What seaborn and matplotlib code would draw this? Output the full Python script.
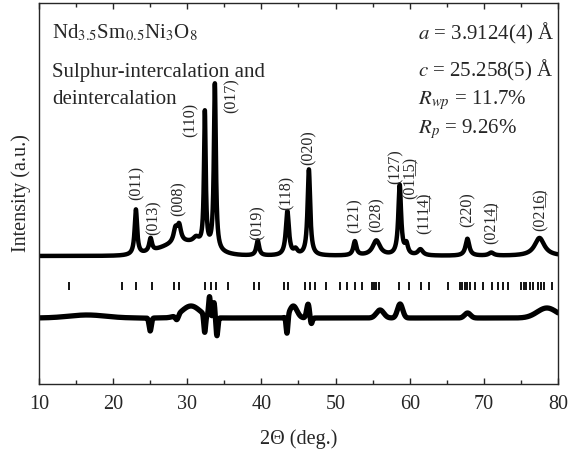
import numpy as np
import pandas as pd
import seaborn as sns
import matplotlib
matplotlib.use("Agg")
import matplotlib.pyplot as plt

peak_pos = [23.07, 25.05, 28.4, 28.9, 31.2, 32.37, 33.72, 39.5, 43.5, 44.6, 46.4,
            52.6, 55.5, 58.65, 59.55, 61.44, 67.78, 71.0, 77.5]
peak_height = [45, 13, 13, 16, 6, 134, 166, 15, 44, 5, 86,
               14, 15, 70, 10, 6, 17, 3, 18]
peak_fwhm = [0.4, 0.45, 0.6, 0.6, 1.0, 0.28, 0.32, 0.45, 0.5, 0.6, 0.42,
             0.5, 1.2, 0.45, 0.5, 0.8, 0.6, 0.8, 1.6]
background = 128
hump_pos, hump_height, hump_sigma = 29.5, 13, 3.0

# difference curve features
diff_pos = [16.5, 25.0, 28.6, 30.5, 32.35, 33.0, 33.6, 34.0, 43.45, 44.3, 46.3, 46.7,
            56.0, 58.7, 67.8, 78.5]
diff_amp = [3, -13, -5, 12, -18, 20, 15, -18, -18, 12, 14, -7,
            8, 14, 5, 10]
diff_sigma = [2.5, 0.15, 0.2, 1.2, 0.12, 0.12, 0.12, 0.12, 0.12, 0.5, 0.2, 0.15,
              0.5, 0.35, 0.4, 1.3]
diff_offset = 66

# Bragg reflection positions
bragg_pos = [14.04, 21.14, 23.07, 25.18, 28.24, 28.91, 32.37, 33.14, 33.85, 35.52,
             39.02, 39.61, 43.02, 43.65, 45.85, 46.52, 47.2, 48.77, 50.57, 51.56,
             52.59, 53.62, 54.93, 55.2, 55.5, 55.82, 58.56, 59.87, 61.57, 62.6,
             65.17, 66.74, 67.1, 67.41, 67.73, 68.09, 68.76, 69.88, 71.14, 71.9,
             72.57, 73.25, 75.05, 75.36, 75.72, 76.17, 76.62, 77.29, 77.75, 78.1, 79.14]
bragg_level = 98

# hkl labels ("|" marks where the underlined index starts)
hkl_text = ["011", "013", "008", "110", "017", "019", "118", "020", "121", "028",
            "127", "01|15", "11|14", "220", "02|14", "02|16"]
hkl_x = [23.2, 25.5, 28.9, 30.5, 36.0, 39.5, 43.4, 46.4, 52.6, 55.5,
         58.1, 60.1, 62.0, 67.8, 71.0, 77.7]
hkl_y = [201, 166, 185, 264, 288, 161, 191, 236, 168, 169,
         217, 206, 171, 174, 161, 174]

sns.set_style("ticks")
plt.rcParams["font.family"] = ["Liberation Serif", "DejaVu Serif"]
plt.rcParams["mathtext.fontset"] = "stix"


def hkl_label(s):
    if "|" in s:
        a, b = s.split("|")
        return "(" + a + "".join(c + "\u0332" for c in b) + ")"
    return "(" + s + ")"


tt = np.linspace(10, 80, 7001)
obs = background + hump_height * np.exp(-(tt - hump_pos) ** 2 / (2 * hump_sigma ** 2))
for p, h, w in zip(peak_pos, peak_height, peak_fwhm):
    obs = obs + h / (1 + ((tt - p) / (w / 2)) ** 2)
diff = np.full_like(tt, diff_offset, dtype=float)
for p, a, s in zip(diff_pos, diff_amp, diff_sigma):
    diff = diff + a * np.exp(-(tt - p) ** 2 / (2 * s ** 2))

df = pd.DataFrame({"tt": tt, "obs": obs, "diff": diff})

fig = plt.figure(figsize=(5.69, 4.51), dpi=100)
ax = fig.add_axes([0.0685, 0.1486, 0.9122, 0.8447])

sns.lineplot(data=df, x="tt", y="obs", ax=ax, color="black", lw=3.2)
sns.lineplot(data=df, x="tt", y="diff", ax=ax, color="black", lw=3.8)
ax.vlines(bragg_pos, bragg_level - 4, bragg_level + 4, color="black", lw=1.3)

for t, x, y in zip(hkl_text, hkl_x, hkl_y):
    ax.text(x, y, hkl_label(t), rotation=90, ha="center", va="center", fontsize=11.5)

fs = 15
ax.text(0.025, 0.908, r"Nd$_{3.5}$Sm$_{0.5}$Ni$_3$O$_8$", transform=ax.transAxes, fontsize=fs)
ax.text(0.025, 0.806, "Sulphur-intercalation and", transform=ax.transAxes, fontsize=fs)
ax.text(0.025, 0.735, "deintercalation", transform=ax.transAxes, fontsize=fs)
ax.text(0.730, 0.903, r"$a$ = 3.9124(4) Å", transform=ax.transAxes, fontsize=fs)
ax.text(0.730, 0.806, r"$c$ = 25.258(5) Å", transform=ax.transAxes, fontsize=fs)
ax.text(0.730, 0.735, r"$R_{wp}$ = 11.7%", transform=ax.transAxes, fontsize=fs)
ax.text(0.730, 0.659, r"$R_{p}$ = 9.26%", transform=ax.transAxes, fontsize=fs)

ax.set_xlim(10, 80)
ax.set_ylim(0, 381)
ax.set_xticks(range(10, 81, 10))
ax.set_xticks(range(15, 80, 10), minor=True)
ax.set_yticks([])
ax.tick_params(axis="x", which="both", direction="in", top=True, labelsize=14.5, pad=8)
ax.tick_params(axis="x", which="major", length=4, width=1)
ax.tick_params(axis="x", which="minor", length=3, width=1)
for sp in ax.spines.values():
    sp.set_linewidth(1.0)
ax.set_xlabel("2Θ (deg.)", fontsize=14.5, labelpad=11)
ax.set_ylabel("Intensity (a.u.)", fontsize=14.5, labelpad=6)

fig.savefig("out.png", dpi=100)
